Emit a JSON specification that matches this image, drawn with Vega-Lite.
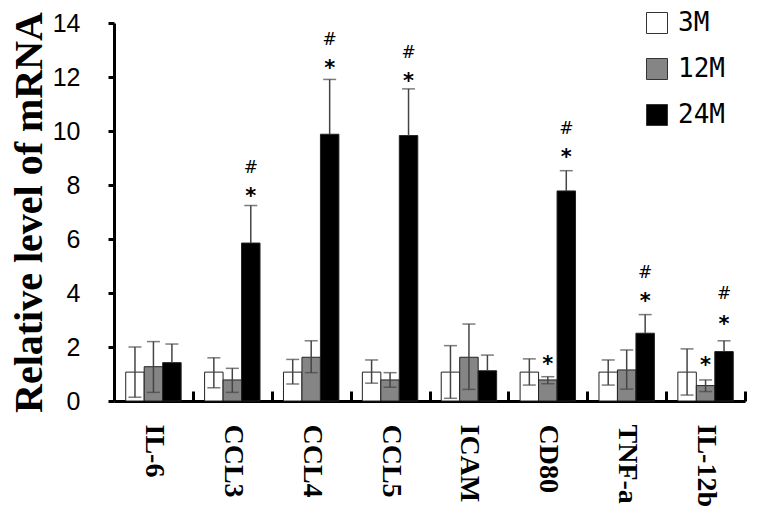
{
  "$schema": "https://vega.github.io/schema/vega-lite/v6.json",
  "autosize": "none",
  "width": 631,
  "height": 378,
  "padding": {"left": 114, "top": 23, "right": 13, "bottom": 123},
  "background": "white",
  "config": {"view": {"stroke": null}},
  "datasets": {
    "bars": [
      {"gene": "IL-6", "group": "3M", "value": 1.07, "lo": 0.14, "hi": 2.0},
      {"gene": "IL-6", "group": "12M", "value": 1.27, "lo": 0.32, "hi": 2.2},
      {"gene": "IL-6", "group": "24M", "value": 1.42, "lo": 1.42, "hi": 2.11},
      {"gene": "CCL3", "group": "3M", "value": 1.07, "lo": 0.49, "hi": 1.6},
      {"gene": "CCL3", "group": "12M", "value": 0.78, "lo": 0.32, "hi": 1.21},
      {"gene": "CCL3", "group": "24M", "value": 5.85, "lo": 5.85, "hi": 7.24},
      {"gene": "CCL4", "group": "3M", "value": 1.07, "lo": 0.63, "hi": 1.54},
      {"gene": "CCL4", "group": "12M", "value": 1.62, "lo": 1.05, "hi": 2.23},
      {"gene": "CCL4", "group": "24M", "value": 9.88, "lo": 9.88, "hi": 11.91},
      {"gene": "CCL5", "group": "3M", "value": 1.07, "lo": 0.66, "hi": 1.52},
      {"gene": "CCL5", "group": "12M", "value": 0.78, "lo": 0.51, "hi": 1.05},
      {"gene": "CCL5", "group": "24M", "value": 9.83, "lo": 9.83, "hi": 11.56},
      {"gene": "ICAM", "group": "3M", "value": 1.07, "lo": 0.1, "hi": 2.05},
      {"gene": "ICAM", "group": "12M", "value": 1.62, "lo": 0.43, "hi": 2.85},
      {"gene": "ICAM", "group": "24M", "value": 1.12, "lo": 1.12, "hi": 1.7},
      {"gene": "CD80", "group": "3M", "value": 1.07, "lo": 0.59, "hi": 1.56},
      {"gene": "CD80", "group": "12M", "value": 0.78, "lo": 0.64, "hi": 0.9},
      {"gene": "CD80", "group": "24M", "value": 7.78, "lo": 7.78, "hi": 8.53},
      {"gene": "TNF-a", "group": "3M", "value": 1.07, "lo": 0.59, "hi": 1.52},
      {"gene": "TNF-a", "group": "12M", "value": 1.15, "lo": 0.44, "hi": 1.89},
      {"gene": "TNF-a", "group": "24M", "value": 2.51, "lo": 2.51, "hi": 3.2},
      {"gene": "IL-12b", "group": "3M", "value": 1.07, "lo": 0.22, "hi": 1.93},
      {"gene": "IL-12b", "group": "12M", "value": 0.57, "lo": 0.35, "hi": 0.78},
      {"gene": "IL-12b", "group": "24M", "value": 1.83, "lo": 1.83, "hi": 2.23}
    ],
    "marks": [
      {"gene": "CCL3", "group": "24M", "symbol": "*", "pos": 7.75},
      {"gene": "CCL3", "group": "24M", "symbol": "#", "pos": 8.68},
      {"gene": "CCL4", "group": "24M", "symbol": "*", "pos": 12.47},
      {"gene": "CCL4", "group": "24M", "symbol": "#", "pos": 13.4},
      {"gene": "CCL5", "group": "24M", "symbol": "*", "pos": 12.01},
      {"gene": "CCL5", "group": "24M", "symbol": "#", "pos": 12.94},
      {"gene": "CD80", "group": "12M", "symbol": "*", "pos": 1.52},
      {"gene": "CD80", "group": "24M", "symbol": "*", "pos": 9.17},
      {"gene": "CD80", "group": "24M", "symbol": "#", "pos": 10.1},
      {"gene": "TNF-a", "group": "24M", "symbol": "*", "pos": 3.86},
      {"gene": "TNF-a", "group": "24M", "symbol": "#", "pos": 4.79},
      {"gene": "IL-12b", "group": "12M", "symbol": "*", "pos": 1.49},
      {"gene": "IL-12b", "group": "24M", "symbol": "*", "pos": 3.0},
      {"gene": "IL-12b", "group": "24M", "symbol": "#", "pos": 3.99}
    ]
  },
  "encoding": {
    "x": {
      "field": "gene",
      "type": "nominal",
      "sort": ["IL-6", "CCL3", "CCL4", "CCL5", "ICAM", "CD80", "TNF-a", "IL-12b"],
      "scale": {"paddingInner": 0, "paddingOuter": 0},
      "axis": {
        "title": null,
        "tickBand": "extent",
        "labelAngle": 90,
        "labelAlign": "left",
        "labelBaseline": "middle",
        "labelFont": "Liberation Serif",
        "labelFontWeight": "bold",
        "labelFontSize": 28,
        "labelColor": "black",
        "labelPadding": 33,
        "tickSize": -10,
        "tickWidth": 3,
        "tickColor": "black",
        "domainWidth": 3,
        "domainColor": "black",
        "grid": false
      }
    },
    "xOffset": {
      "field": "group",
      "type": "nominal",
      "sort": ["3M", "12M", "24M"],
      "scale": {"paddingInner": 0, "paddingOuter": 0.635}
    }
  },
  "layer": [
    {
      "data": {"name": "bars"},
      "mark": {"type": "bar", "stroke": "#222", "strokeWidth": 1},
      "encoding": {
        "y": {
          "field": "value",
          "type": "quantitative",
          "scale": {"domain": [0, 14], "nice": false},
          "axis": {
            "values": [0, 2, 4, 6, 8, 10, 12, 14],
            "title": "Relative level of mRNA",
            "titleFont": "Liberation Serif",
            "titleFontWeight": "bold",
            "titleFontSize": 40,
            "titleColor": "black",
            "titlePadding": 3,
            "labelFont": "Liberation Sans",
            "labelFontSize": 25,
            "labelColor": "black",
            "labelPadding": 28,
            "tickSize": 6,
            "tickWidth": 3,
            "tickColor": "black",
            "domainWidth": 3,
            "domainColor": "black",
            "grid": false
          }
        },
        "fill": {
          "field": "group",
          "type": "nominal",
          "sort": ["3M", "12M", "24M"],
          "scale": {"domain": ["3M", "12M", "24M"], "range": ["white", "#858585", "black"]},
          "legend": {
            "orient": "none",
            "legendX": 530,
            "legendY": -13,
            "title": null,
            "symbolType": "square",
            "symbolSize": 441,
            "symbolStrokeColor": "#333",
            "symbolStrokeWidth": 1,
            "labelFont": "DejaVu Sans Mono",
            "labelFontSize": 26,
            "labelColor": "black",
            "labelOffset": 8,
            "rowPadding": 20,
            "padding": 0
          }
        }
      }
    },
    {
      "data": {"name": "bars"},
      "mark": {"type": "rule", "color": "#444", "strokeWidth": 1.5},
      "encoding": {
        "y": {"field": "lo", "type": "quantitative"},
        "y2": {"field": "hi"}
      }
    },
    {
      "data": {"name": "bars"},
      "mark": {"type": "tick", "color": "#444", "thickness": 1.5, "size": 13},
      "encoding": {
        "y": {"field": "hi", "type": "quantitative"}
      }
    },
    {
      "data": {"name": "bars"},
      "transform": [{"filter": "datum.group !== '24M'"}],
      "mark": {"type": "tick", "color": "#444", "thickness": 1.5, "size": 13},
      "encoding": {
        "y": {"field": "lo", "type": "quantitative"}
      }
    },
    {
      "data": {"name": "marks"},
      "transform": [{"filter": "datum.symbol === '*'"}],
      "mark": {"type": "text", "font": "DejaVu Sans", "fontWeight": "bold", "fontSize": 21, "baseline": "alphabetic", "dy": 11, "color": "black"},
      "encoding": {
        "y": {"field": "pos", "type": "quantitative"},
        "text": {"field": "symbol"}
      }
    },
    {
      "data": {"name": "marks"},
      "transform": [{"filter": "datum.symbol === '#'"}],
      "mark": {"type": "text", "font": "DejaVu Sans", "fontSize": 17, "baseline": "alphabetic", "dy": 6, "color": "black"},
      "encoding": {
        "y": {"field": "pos", "type": "quantitative"},
        "text": {"field": "symbol"}
      }
    }
  ]
}
